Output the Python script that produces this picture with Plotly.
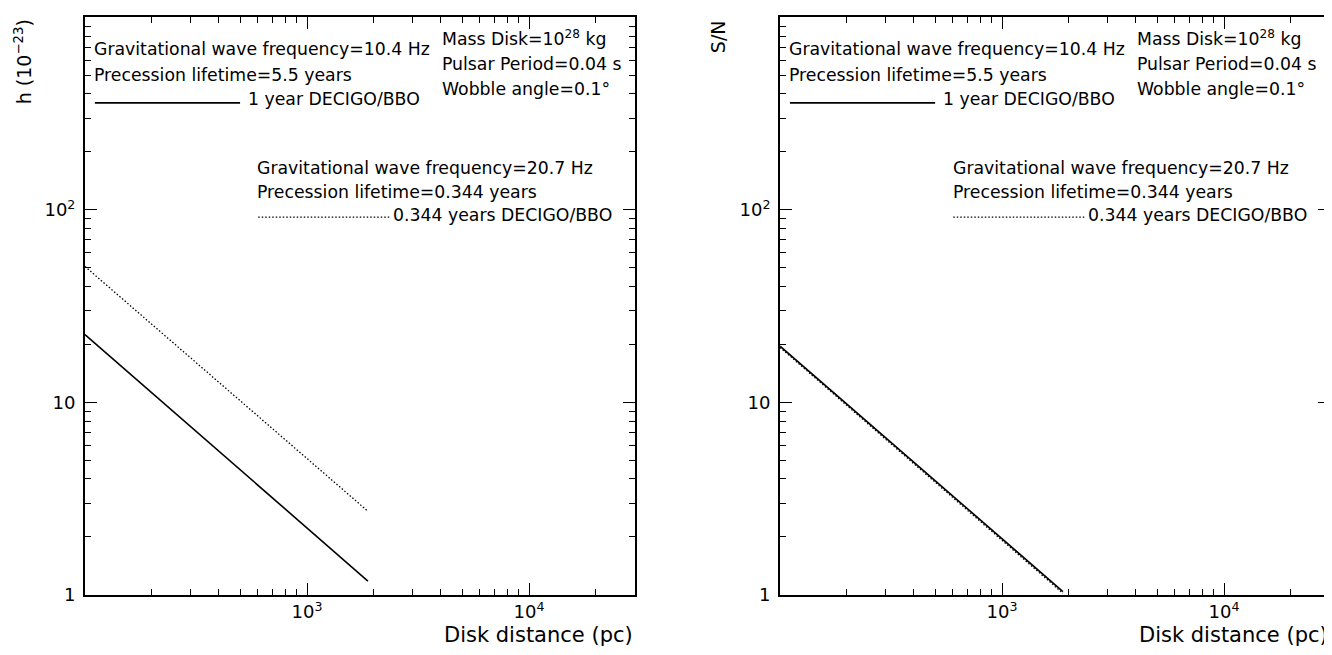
import plotly.graph_objects as go

# ---- data ----
distance_pc = [100, 1880]
h_1yr = [22.5, 1.18]        # solid, 1 year DECIGO/BBO
h_0344yr = [50.8, 2.72]     # dotted, 0.344 years DECIGO/BBO
sn_1yr = [19.6, 1.04]
sn_0344yr = [19.3, 1.02]

x_tickvals = [1000, 10000]
x_ticktext = ["10<sup>3</sup>", "10<sup>4</sup>"]
y_tickvals = [1, 10, 100]
y_ticktext = ["1", "10", "10<sup>2</sup>"]
x_minor = [200, 300, 400, 500, 600, 700, 800, 900,
           2000, 3000, 4000, 5000, 6000, 7000, 8000, 9000, 20000]
y_minor = [2, 3, 4, 5, 6, 7, 8, 9, 20, 30, 40, 50, 60, 70, 80, 90,
           200, 300, 400, 500, 600, 700, 800, 900]

FONT = "DejaVu Sans"
TXT = 17.3

fig = go.Figure()

panels = [
    ("x", "y", h_1yr, h_0344yr, "h (10<sup>−23</sup>)", 0.0113),
    ("x2", "y2", sn_1yr, sn_0344yr, "S/N", 0.533),
]

for xr, yr, solid, dotted, ytitle, ytx in panels:
    fig.add_trace(go.Scatter(x=distance_pc, y=solid, mode="lines", xaxis=xr, yaxis=yr,
                             line=dict(color="black", width=1.6), showlegend=False))
    fig.add_trace(go.Scatter(x=distance_pc, y=dotted, mode="lines", xaxis=xr, yaxis=yr,
                             line=dict(color="black", width=1.3, dash="1.5px,2px"),
                             showlegend=False))
    xd = f"{xr} domain"
    yd = f"{yr} domain"

    def ann(text, x, y, anchor="left"):
        fig.add_annotation(text=text, x=x, y=y, xref=xd, yref=yd, xanchor=anchor,
                           yanchor="middle", showarrow=False,
                           font=dict(family=FONT, size=TXT, color="black"))
    ann("Gravitational wave frequency=10.4 Hz", 0.013, 0.945)
    ann("Precession lifetime=5.5 years", 0.013, 0.901)
    ann("1 year DECIGO/BBO", 0.292, 0.858)
    ann("Mass Disk=10<sup>28</sup> kg", 0.645, 0.964)
    ann("Pulsar Period=0.04 s", 0.645, 0.920)
    ann("Wobble angle=0.1°", 0.645, 0.876)
    ann("Gravitational wave frequency=20.7 Hz", 0.31, 0.740)
    ann("Precession lifetime=0.344 years", 0.31, 0.697)
    ann("0.344 years DECIGO/BBO", 0.556, 0.658)
    # legend sample lines
    fig.add_shape(type="line", xref=xd, yref=yd, x0=0.018, x1=0.282, y0=0.852, y1=0.852,
                  line=dict(color="black", width=1.6))
    fig.add_shape(type="line", xref=xd, yref=yd, x0=0.315, x1=0.555, y0=0.654, y1=0.654,
                  line=dict(color="black", width=1.3, dash="1.5px,2px"))
    # axis titles
    fig.add_annotation(text="Disk distance (pc)", x=1.0, y=0.0275, xref=xd, yref="paper",
                       xanchor="right", yanchor="middle", showarrow=False,
                       font=dict(family=FONT, size=21, color="black"))
    fig.add_annotation(text=ytitle, x=ytx, y=0.985, xref="paper", yref="paper",
                       xanchor="center", yanchor="top", textangle=-90, showarrow=False,
                       font=dict(family=FONT, size=19, color="black"))

axis_common = dict(type="log", showgrid=False, zeroline=False, showline=True,
                   linecolor="black", linewidth=2, mirror="allticks",
                   ticks="inside", ticklen=12, tickwidth=1.2, tickcolor="black",
                   tickfont=dict(family=FONT, size=18, color="black"))

xa = dict(axis_common, range=[2, 4.4771], tickmode="array", tickvals=x_tickvals,
          ticktext=x_ticktext,
          minor=dict(tickmode="array", tickvals=x_minor, ticks="inside", ticklen=6,
                     tickwidth=1.2, tickcolor="black", showgrid=False))
ya = dict(axis_common, range=[0, 3], tickmode="array", tickvals=y_tickvals,
          ticktext=y_ticktext, ticklabelstandoff=4,
          minor=dict(tickmode="array", tickvals=y_minor, ticks="inside", ticklen=6,
                     tickwidth=1.2, tickcolor="black", showgrid=False))

fig.update_layout(
    width=1332, height=655,
    margin=dict(l=0, r=0, t=0, b=0),
    paper_bgcolor="white", plot_bgcolor="white",
    xaxis=dict(xa, domain=[0.0578, 0.4707], anchor="y"),
    yaxis=dict(ya, domain=[0.0901, 0.9855], anchor="x"),
    xaxis2=dict(xa, domain=[0.5796, 0.9925], anchor="y2"),
    yaxis2=dict(ya, domain=[0.0901, 0.9855], anchor="x2"),
    font=dict(family=FONT, color="black"),
)

fig.write_html("out.html")
